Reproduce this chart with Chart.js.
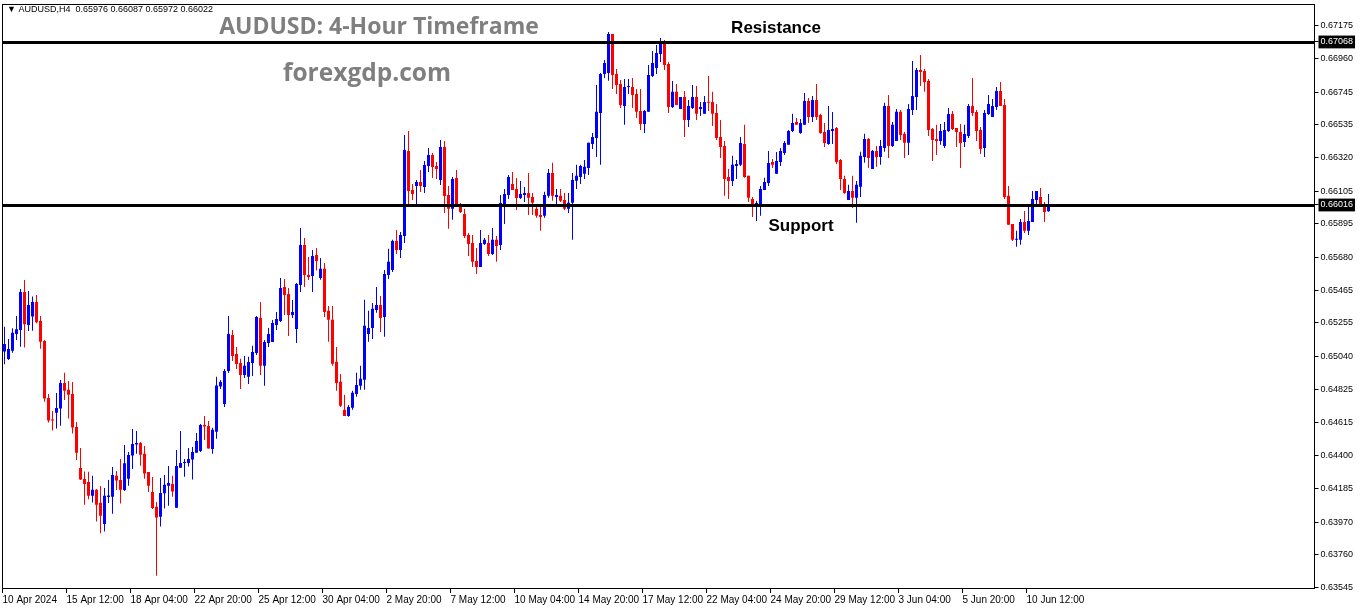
<!DOCTYPE html>
<html>
<head>
<meta charset="utf-8">
<script src="https://cdn.jsdelivr.net/npm/chart.js@4.4.1/dist/chart.umd.min.js"></script>
<style>
  html, body { margin: 0; padding: 0; background: #fff; }
  canvas { display: block; }
</style>
</head>
<body>
<canvas id="c" width="1362" height="611"></canvas>
<script>
// AUDUSD H4 candles (one value per bar, left to right).
const opens = [
  .65070,.65022,.65076,.65184,.65210,.65455,.65242,.65296,.65390,.65268,
  .65139,.64771,.64629,.64676,.64702,.64868,.64823,.64797,.64584,.64319,
  .64248,.64229,.64139,.64178,.64094,.63958,.64132,.64134,.64268,.64242,
  .64177,.64250,.64399,.64470,.64480,.64410,.64293,.64164,.64068,.64005,
  .64156,.64205,.64216,.64063,.64321,.64351,.64351,.64373,.64418,.64429,
  .64597,.64590,.64442,.64552,.64844,.64732,.64945,.65177,.65055,.64997,
  .64919,.64907,.64997,.65061,.65287,.64978,.65126,.65132,.65242,.65268,
  .65487,.65442,.65306,.65216,.65500,.65758,.65564,.65558,.65694,.65545,
  .65604,.65333,.65275,.65004,.64875,.64694,.64655,.64707,.64797,.64849,
  .64888,.65184,.65223,.65339,.65371,.65294,.65565,.65597,.65784,.65726,
  .65816,.66365,.66113,.66139,.66165,.66132,.66268,.66339,.66268,.66178,
  .66390,.66081,.65991,.66190,.66003,.65958,.65823,.65771,.65655,.65616,
  .65765,.65771,.65700,.65791,.65758,.66016,.66081,.66152,.66120,.66061,
  .66081,.66094,.66068,.65991,.65952,.65946,.66075,.66223,.66068,.66075,
  .66049,.65991,.66030,.66172,.66197,.66217,.66255,.66410,.66449,.66610,
  .66862,.66868,.67120,.66862,.66797,.66655,.66778,.66778,.66733,.66623,
  .66539,.66617,.66849,.66900,.66991,.67074,.66926,.66649,.66746,.66636,
  .66713,.66565,.66642,.66713,.66636,.66604,.66681,.66681,.66610,.66455,
  .66397,.66197,.66171,.66268,.66275,.66410,.66204,.66055,.66023,.66023,
  .66113,.66158,.66294,.66217,.66294,.66352,.66404,.66494,.66552,.66481,
  .66533,.66687,.66584,.66694,.66597,.66487,.66410,.66494,.66513,.66307,
  .66184,.66049,.66107,.66062,.66133,.66326,.66442,.66249,.66365,.66326,
  .66384,.66655,.66397,.66429,.66617,.66475,.66417,.66629,.66713,.66887,
  .66881,.66816,.66507,.66442,.66429,.66397,.66494,.66603,.66513,.66487,
  .66423,.66462,.66655,.66616,.66500,.66384,.66603,.66584,.66649,.66752,
  .66662,.66075,.65894,.65791,.65791,.65907,.65849,.65907,.66049,.66068,
  .66023,.65976
];
const highs = [
  .65231,.65151,.65220,.65300,.65474,.65532,.65461,.65425,.65435,.65300,
  .65145,.64797,.64687,.64803,.64887,.64934,.64881,.64874,.64616,.64448,
  .64296,.64294,.64268,.64184,.64203,.64190,.64242,.64326,.64300,.64377,
  .64468,.64422,.64571,.64558,.64487,.64461,.64293,.64261,.64100,.64255,
  .64274,.64332,.64268,.64435,.64558,.64377,.64448,.64455,.64545,.64603,
  .64655,.64622,.64578,.64907,.64887,.64958,.65300,.65210,.65100,.65023,
  .65042,.65036,.65107,.65300,.65390,.65145,.65223,.65274,.65326,.65545,
  .65539,.65481,.65403,.65513,.65868,.65803,.65681,.65726,.65739,.65674,
  .65642,.65365,.65365,.65100,.64926,.64791,.64726,.64817,.64933,.64978,
  .65404,.65333,.65384,.65487,.65429,.65597,.65733,.65791,.65855,.65842,
  .66468,.66494,.66152,.66178,.66242,.66300,.66384,.66352,.66294,.66436,
  .66429,.66139,.66197,.66242,.66029,.65991,.65836,.65823,.65739,.65855,
  .65803,.65823,.65868,.65816,.66081,.66120,.66210,.66229,.66190,.66171,
  .66132,.66223,.66094,.66017,.66017,.66101,.66249,.66288,.66120,.66120,
  .66094,.66094,.66223,.66275,.66275,.66307,.66417,.66481,.66791,.66868,
  .66952,.67133,.67120,.66894,.66823,.66829,.66829,.66836,.66765,.66765,
  .66629,.66920,.67010,.67049,.67094,.67081,.66939,.66816,.66797,.66713,
  .66752,.66694,.66791,.66784,.66681,.66720,.66849,.66746,.66668,.66565,
  .66429,.66249,.66333,.66307,.66455,.66533,.66204,.66068,.66042,.66139,
  .66191,.66365,.66313,.66358,.66384,.66429,.66500,.66604,.66578,.66571,
  .66739,.66707,.66720,.66797,.66604,.66545,.66655,.66616,.66520,.66313,
  .66204,.66146,.66204,.66171,.66359,.66475,.66449,.66371,.66397,.66436,
  .66675,.66726,.66552,.66636,.66629,.66488,.66668,.66945,.66900,.66984,
  .66894,.66829,.66513,.66533,.66539,.66552,.66642,.66623,.66513,.66539,
  .66533,.66668,.66836,.66629,.66520,.66629,.66726,.66700,.66778,.66810,
  .66700,.66139,.65894,.65849,.65926,.65978,.66004,.66107,.66107,.66126,
  .66036,.66087
];
const lows = [
  .64988,.65016,.65063,.65145,.65102,.65096,.65203,.65205,.65253,.65089,
  .64747,.64612,.64560,.64573,.64592,.64758,.64638,.64541,.64371,.64242,
  .64081,.64117,.64096,.63973,.63898,.63909,.64093,.64023,.64177,.64089,
  .64171,.64205,.64313,.64410,.64334,.64250,.64164,.64055,.63623,.63941,
  .64057,.64076,.64134,.64063,.64321,.64263,.64328,.64244,.64418,.64422,
  .64500,.64444,.64410,.64507,.64829,.64713,.64932,.65010,.64958,.64829,
  .64900,.64861,.64913,.65048,.64919,.64849,.65100,.65132,.65210,.65261,
  .65306,.65171,.65287,.65126,.65455,.65487,.65532,.65455,.65593,.65533,
  .65294,.65133,.64978,.64817,.64713,.64655,.64649,.64694,.64778,.64823,
  .64823,.65133,.65152,.65320,.65197,.65165,.65539,.65584,.65700,.65674,
  .65771,.66003,.66049,.66016,.66100,.66094,.66229,.66190,.66184,.66145,
  .65965,.65862,.65920,.66003,.65965,.65803,.65687,.65616,.65571,.65616,
  .65758,.65687,.65694,.65649,.65726,.65894,.66055,.66113,.65984,.66055,
  .66036,.65952,.65952,.65933,.65849,.65933,.66062,.66043,.66023,.66036,
  .65984,.65965,.65791,.66120,.66152,.66184,.66210,.66378,.66326,.66275,
  .66836,.66817,.66765,.66733,.66642,.66533,.66733,.66642,.66578,.66500,
  .66481,.66617,.66842,.66862,.66939,.66887,.66610,.66642,.66662,.66636,
  .66455,.66520,.66636,.66565,.66591,.66604,.66623,.66526,.66436,.66320,
  .66075,.66055,.66139,.66184,.66268,.66191,.66036,.65939,.65913,.65946,
  .66113,.66139,.66255,.66217,.66268,.66339,.66404,.66487,.66533,.66475,
  .66533,.66545,.66552,.66565,.66475,.66391,.66404,.66410,.66281,.66113,
  .66088,.66049,.65997,.65901,.66068,.66288,.66255,.66249,.66262,.66275,
  .66359,.66320,.66391,.66429,.66436,.66320,.66339,.66597,.66629,.66784,
  .66746,.66462,.66300,.66339,.66404,.66384,.66487,.66500,.66391,.66255,
  .66391,.66449,.66591,.66429,.66345,.66326,.66597,.66584,.66629,.66655,
  .66055,.65888,.65784,.65746,.65759,.65836,.65823,.65907,.66017,.66017,
  .65907,.65972
];
const closes = [
  .65119,.65087,.65192,.65214,.65455,.65246,.65371,.65390,.65259,.65134,
  .64767,.64625,.64625,.64706,.64868,.64818,.64792,.64580,.64418,.64244,
  .64216,.64139,.64178,.64081,.64010,.64139,.64141,.64274,.64238,.64179,
  .64349,.64403,.64474,.64480,.64405,.64283,.64205,.64061,.63999,.64158,
  .64210,.64222,.64167,.64332,.64351,.64358,.64377,.64422,.64493,.64597,
  .64586,.64444,.64565,.64851,.64874,.64945,.65184,.65042,.64990,.64919,
  .64978,.65003,.65068,.65294,.64978,.65132,.65184,.65255,.65281,.65481,
  .65435,.65306,.65326,.65506,.65758,.65564,.65552,.65687,.65655,.65604,
  .65326,.65275,.64991,.64868,.64720,.64655,.64713,.64804,.64855,.64894,
  .65236,.65223,.65346,.65371,.65287,.65571,.65649,.65784,.65726,.65823,
  .66371,.66107,.66087,.66165,.66139,.66274,.66339,.66261,.66249,.66390,
  .66074,.65991,.66184,.66003,.65971,.65816,.65765,.65649,.65616,.65771,
  .65791,.65700,.65791,.65752,.66029,.66087,.66197,.66113,.66061,.66087,
  .66094,.66062,.66030,.65946,.65939,.66081,.66223,.66075,.66081,.66043,
  .65991,.66030,.66178,.66204,.66268,.66262,.66417,.66455,.66617,.66862,
  .66933,.67120,.66855,.66791,.66662,.66778,.66784,.66726,.66617,.66539,
  .66623,.66855,.66933,.66997,.67068,.66920,.66649,.66746,.66662,.66713,
  .66565,.66655,.66713,.66604,.66649,.66681,.66675,.66604,.66449,.66391,
  .66184,.66171,.66275,.66281,.66416,.66197,.66062,.66023,.66029,.66120,
  .66165,.66287,.66275,.66300,.66365,.66416,.66494,.66545,.66533,.66545,
  .66687,.66584,.66694,.66584,.66481,.66416,.66500,.66507,.66294,.66184,
  .66094,.66107,.66062,.66146,.66333,.66442,.66320,.66365,.66326,.66397,
  .66655,.66397,.66533,.66617,.66468,.66417,.66636,.66720,.66887,.66875,
  .66810,.66500,.66436,.66429,.66494,.66500,.66603,.66507,.66487,.66416,
  .66474,.66655,.66610,.66494,.66378,.66610,.66668,.66655,.66752,.66655,
  .66068,.65888,.65791,.65797,.65907,.65849,.65913,.66055,.66107,.66017,
  .65971,.66022
];

// time labels, one every 16 bars starting at bar 0
const timeLabels = ["10 Apr 2024", "15 Apr 12:00", "18 Apr 04:00", "22 Apr 20:00", "25 Apr 12:00",
  "30 Apr 04:00", "2 May 20:00", "7 May 12:00", "10 May 04:00", "14 May 20:00", "17 May 12:00",
  "22 May 04:00", "24 May 20:00", "29 May 12:00", "3 Jun 04:00", "5 Jun 20:00", "10 Jun 12:00"];
const labelStep = 16;
const priceTicks = [0.67175, 0.66960, 0.66745, 0.66535, 0.66320, 0.66105, 0.65895, 0.65680, 0.65465,
  0.65255, 0.65040, 0.64825, 0.64615, 0.64400, 0.64185, 0.63970, 0.63760, 0.63545];
const levels = [0.67068, 0.66016];          // resistance, support
const header = "▼ AUDUSD,H4  0.65976 0.66087 0.65972 0.66022";

const SLOTS = 328;                            // bars that fit the window (empty space on the right)
const BULL = "#0000ff", BEAR = "#ff0000";
const labels = Array.from({length: SLOTS}, (_, i) =>
  (i % labelStep === 0 && i / labelStep < timeLabels.length) ? timeLabels[i / labelStep] : "");
const colors = opens.map((o, i) => closes[i] >= o ? BULL : BEAR);
const isLevel = v => levels.some(l => Math.abs(l - v) < 1e-7);

const overlay = {
  id: "overlay",
  afterDatasetsDraw(chart) {
    const {ctx, chartArea: a, scales: {y}} = chart;
    ctx.save();
    ctx.strokeStyle = "#000"; ctx.lineWidth = 3;
    levels.forEach(v => {
      const py = Math.round(y.getPixelForValue(v)) + 0.5;
      ctx.beginPath(); ctx.moveTo(a.left, py); ctx.lineTo(a.right, py); ctx.stroke();
    });
    ctx.restore();
  },
  afterDraw(chart) {
    const {ctx, chartArea: a, scales: {y}} = chart;
    ctx.save();
    ctx.strokeStyle = "#000"; ctx.lineWidth = 1;
    ctx.strokeRect(a.left, Math.floor(a.top) + 0.5, a.right - a.left, Math.round(a.bottom) - Math.floor(a.top) - 1);
    ctx.fillStyle = "#000"; ctx.textBaseline = "middle"; ctx.textAlign = "left";
    ctx.font = "9px 'Liberation Sans'";
    ctx.fillText(header, 7, 10);
    ctx.fillStyle = "#7f7f7f"; ctx.textAlign = "center"; ctx.textBaseline = "alphabetic";
    ctx.font = "bold 23px 'Open Sans'";
    ctx.fillText("AUDUSD: 4-Hour Timeframe", 379, 34);
    ctx.font = "bold 24.5px 'Open Sans'";
    ctx.fillText("forexgdp.com", 367, 81);
    ctx.fillStyle = "#000";
    ctx.font = "bold 17px 'Liberation Sans'";
    ctx.fillText("Resistance", 776, y.getPixelForValue(levels[0]) - 9);
    ctx.fillText("Support", 801, y.getPixelForValue(levels[1]) + 26);
    ctx.restore();
  }
};

Chart.defaults.font.family = "'Liberation Sans', Arial, sans-serif";
Chart.defaults.color = "#000";

new Chart(document.getElementById("c"), {
  type: "bar",
  data: {
    labels,
    datasets: [
      {label: "wick", data: lows.map((l, i) => [l, highs[i]]), backgroundColor: colors,
       barThickness: 1, minBarLength: 1, grouped: false, order: 2, inflateAmount: 0},
      {label: "body", data: opens.map((o, i) => [o, closes[i]]), backgroundColor: colors,
       barThickness: 3, minBarLength: 1, grouped: false, order: 1, inflateAmount: 0},
    ]
  },
  options: {
    responsive: false, animation: false, devicePixelRatio: 1,
    layout: {padding: {left: 2.5, top: 4, right: 0, bottom: 0}},
    plugins: {legend: {display: false}, tooltip: {enabled: false}},
    scales: {
      x: {
        type: "category", offset: true,
        grid: {display: true, drawOnChartArea: false, drawTicks: true, tickLength: 4,
               tickColor: c => (c.tick && c.tick.label) ? "#000" : "rgba(0,0,0,0)"},
        border: {display: false},
        ticks: {autoSkip: false, maxRotation: 0, minRotation: 0, align: "start", labelOffset: -2,
                padding: 1, font: {size: 10}, color: "#000"},
        afterFit: s => { s.height = 22; s.paddingLeft = 0; s.paddingRight = 0; }
      },
      y: {
        type: "linear", position: "right", min: 0.63538, max: 0.67313, bounds: "data",
        grid: {display: true, drawOnChartArea: false, drawTicks: true, tickLength: 4, tickColor: "#000"},
        border: {display: false},
        afterBuildTicks: s => { s.ticks = priceTicks.concat(levels).map(v => ({value: v})); },
        ticks: {autoSkip: false, padding: 2, font: {size: 9},
                callback: v => v.toFixed(5),
                color: c => isLevel(c.tick.value) ? "#fff" : "#000",
                showLabelBackdrop: true,
                backdropColor: c => isLevel(c.tick.value) ? "#000" : "rgba(0,0,0,0)",
                backdropPadding: {x: 2, y: 1}},
        afterFit: s => { s.width = 47.5; s.paddingTop = 0; s.paddingBottom = 0; }
      }
    }
  },
  plugins: [overlay]
});
</script>
</body>
</html>
